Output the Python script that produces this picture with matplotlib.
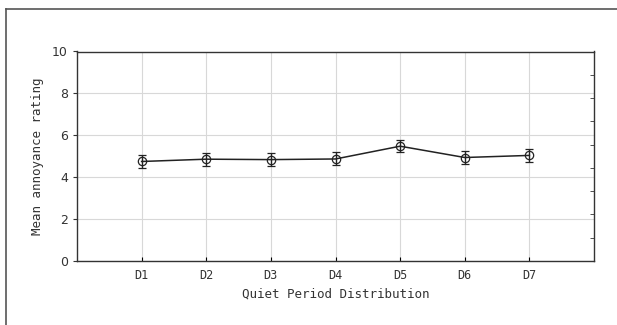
import matplotlib.pyplot as plt
import numpy as np
from matplotlib.lines import Line2D
from matplotlib.ticker import FixedLocator

# Data
groups = ['D1', 'D2', 'D3', 'D4', 'D5', 'D6', 'D7']
means = [4.75, 4.86, 4.84, 4.87, 5.48, 4.94, 5.04]
errs = [0.33, 0.31, 0.32, 0.31, 0.30, 0.33, 0.31]

fig = plt.figure(figsize=(6.17, 3.25), dpi=100)
fig.patch.set_facecolor('white')
ax = fig.add_axes([77 / 617, 1 - 261 / 325, (594 - 77) / 617, (261 - 51.5) / 325])

x = np.arange(1, len(groups) + 1)
ax.errorbar(x, means, yerr=errs, color='#222222', linewidth=1.1,
            marker='o', markersize=6, markerfacecolor='none',
            markeredgecolor='#222222', markeredgewidth=0.9,
            ecolor='#222222', elinewidth=1.0, capsize=3, capthick=1.0, zorder=3)

ax.set_xlim(0, 8)
ax.set_ylim(0, 10)
ax.set_xticks(x)
ax.set_xticklabels(groups, family='DejaVu Sans Mono', fontsize=8.5, color='#333333')
ax.set_yticks(np.arange(0, 11, 2))
ax.tick_params(axis='y', labelsize=9, colors='#333333', length=3, direction='out')
ax.tick_params(axis='x', length=3, direction='in', pad=6)
ax.grid(True, which='major', color='#d8d8d8', linewidth=0.8, zorder=0)

# inward ticks on the right spine only
ax.yaxis.set_minor_locator(FixedLocator(np.linspace(0, 10, 10)[1:-1]))
ax.tick_params(axis='y', which='minor', left=False, right=True,
               direction='in', length=3, color='#333333')

for s in ax.spines.values():
    s.set_color('#333333')
    s.set_linewidth(1.0)

ax.set_xlabel('Quiet Period Distribution', family='DejaVu Sans Mono',
              fontsize=9, color='#333333', labelpad=4)
ax.set_ylabel('Mean annoyance rating', family='DejaVu Sans Mono',
              fontsize=9, color='#333333', labelpad=6)

# outer frame lines (left and top)
fig.add_artist(Line2D([6 / 617, 6 / 617], [0, 1 - 9 / 325], color='#555555', linewidth=1.2))
fig.add_artist(Line2D([6 / 617, 1], [1 - 9 / 325, 1 - 9 / 325], color='#555555', linewidth=1.2))

fig.savefig('out.png', dpi=100, facecolor='white')
